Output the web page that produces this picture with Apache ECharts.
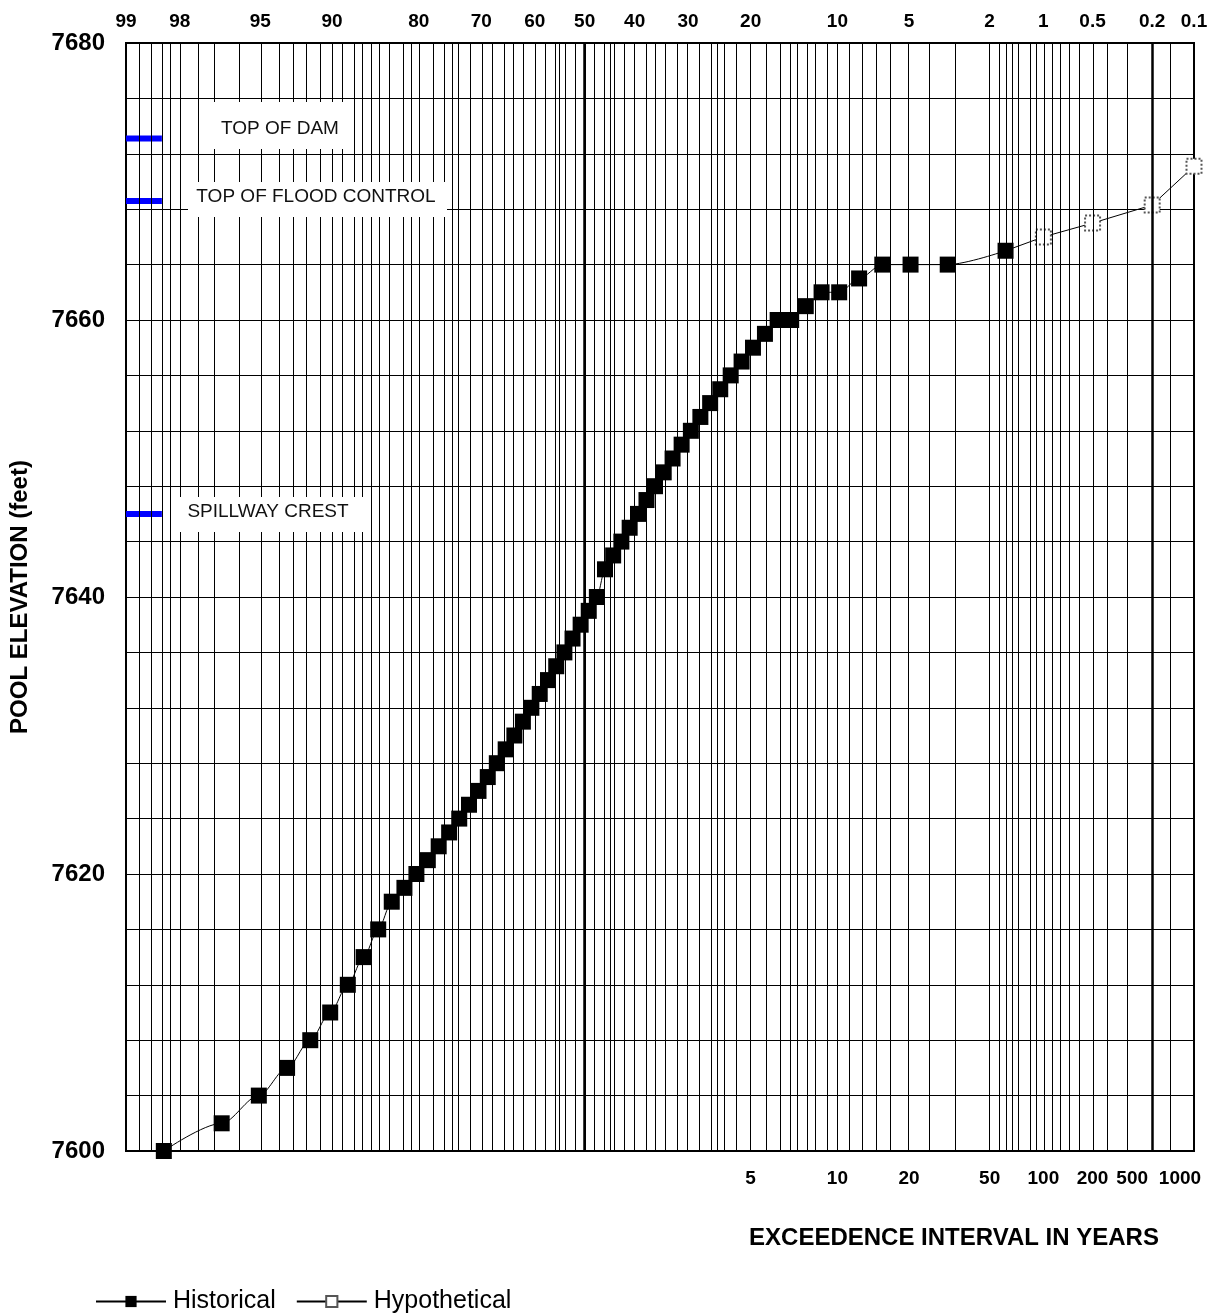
<!DOCTYPE html>
<html>
<head>
<meta charset="utf-8">
<script src="https://cdn.jsdelivr.net/npm/echarts@6/dist/echarts.min.js"></script>
<style>
html,body{margin:0;padding:0;background:#fff;}
#chart{width:1219px;height:1316px;}
</style>
</head>
<body>
<div id="chart"></div>
<script>
// ---------------- DATA ----------------
// Historical annual peak pool elevations, ranked; exceedance probability (%)
const histExceedPct = [1.64, 3.28, 4.92, 6.56, 8.20, 9.84, 11.48, 13.11, 14.75, 16.39,
  18.03, 19.67, 21.31, 22.95, 24.59, 26.23, 27.87, 29.51, 31.15, 32.79,
  34.43, 36.07, 37.70, 39.34, 40.98, 42.62, 44.26, 45.90, 47.54, 49.18,
  50.82, 52.46, 54.10, 55.74, 57.38, 59.02, 60.66, 62.30, 63.93, 65.57,
  67.21, 68.85, 70.49, 72.13, 73.77, 75.41, 77.05, 78.69, 80.33, 81.97,
  83.61, 85.25, 86.89, 88.52, 90.16, 91.80, 93.44, 95.08, 96.72, 98.36];
const histElev = [7665, 7664, 7664, 7664, 7663, 7662, 7662, 7661, 7660, 7660,
  7659, 7658, 7657, 7656, 7655, 7654, 7653, 7652, 7651, 7650,
  7649, 7648, 7647, 7646, 7645, 7644, 7643, 7642, 7640, 7639,
  7638, 7637, 7636, 7635, 7634, 7633, 7632, 7631, 7630, 7629,
  7628, 7627, 7626, 7625, 7624, 7623, 7622, 7621, 7620, 7619,
  7618, 7616, 7614, 7612, 7610, 7608, 7606, 7604, 7602, 7600];

// Hypothetical events
const hypoExceedPct = [1.64, 1, 0.5, 0.2, 0.1];
const hypoElev = [7665, 7666, 7667, 7668.3, 7671.1];

// Reference levels
const refNames = ['TOP OF DAM', 'TOP OF FLOOD CONTROL', 'SPILLWAY CREST'];
const refElev = [7673.1, 7668.6, 7646.0];

// Top axis: exceedance probability tick labels (%)
const topTickPct = [99, 98, 95, 90, 80, 70, 60, 50, 40, 30, 20, 10, 5, 2, 1, 0.5, 0.2, 0.1];
const topTickLabels = ['99', '98', '95', '90', '80', '70', '60', '50', '40', '30', '20', '10', '5', '2', '1', '0.5', '0.2', '0.1'];

// Bottom axis: exceedance interval (years)
const intervalYears = [5, 10, 20, 50, 100, 200, 500, 1000];
const intervalLabels = ['5', '10', '20', '50', '100', '200', '500', '1000'];

// Probability-paper grid lines (%)
const gridPct = [98.8, 98.6, 98.4, 98.2, 98, 97.5, 97, 96, 95, 94, 93, 92, 91, 90, 89, 88, 87, 86, 85, 84,
  82, 81, 80, 78, 76, 75, 74, 72, 70, 68, 66, 64, 62, 60, 58, 56, 55, 54, 52, 50,
  48, 46, 45, 44, 42, 40, 38, 36, 34, 32, 30, 28, 26, 25, 24, 22, 20, 18, 16, 15, 14, 13, 12, 11,
  10, 9, 8, 7, 6, 5, 4, 3, 2, 1.8, 1.6, 1.5, 1.4, 1.2, 1.1, 1, 0.9, 0.8, 0.7, 0.6, 0.5, 0.4, 0.3, 0.2, 0.15];
const heavyGridPct = [50, 0.2];

// Elevation axis
const yMin = 7600, yMax = 7680, yStep = 20;

// ---------------- SCALE (normal probability paper) ----------------
function normInv(p) {
  const a = [-3.969683028665376e+01, 2.209460984245205e+02, -2.759285104469687e+02, 1.383577518672690e+02, -3.066479806614716e+01, 2.506628277459239e+00];
  const b = [-5.447609879822406e+01, 1.615858368580409e+02, -1.556989798598866e+02, 6.680131188771972e+01, -1.328068155288572e+01];
  const c = [-7.784894002430293e-03, -3.223964580411365e-01, -2.400758277161838e+00, -2.549732539343734e+00, 4.374664141464968e+00, 2.938163982698783e+00];
  const d = [7.784695709041462e-03, 3.224671290700398e-01, 2.445134137142996e+00, 3.754408661907416e+00];
  const plow = 0.02425, phigh = 1 - plow;
  let q, r;
  if (p < plow) {
    q = Math.sqrt(-2 * Math.log(p));
    return (((((c[0]*q+c[1])*q+c[2])*q+c[3])*q+c[4])*q+c[5]) / ((((d[0]*q+d[1])*q+d[2])*q+d[3])*q+1);
  }
  if (p <= phigh) {
    q = p - 0.5; r = q * q;
    return (((((a[0]*r+a[1])*r+a[2])*r+a[3])*r+a[4])*r+a[5])*q / (((((b[0]*r+b[1])*r+b[2])*r+b[3])*r+b[4])*r+1);
  }
  q = Math.sqrt(-2 * Math.log(1 - p));
  return -(((((c[0]*q+c[1])*q+c[2])*q+c[3])*q+c[4])*q+c[5]) / ((((d[0]*q+d[1])*q+d[2])*q+d[3])*q+1);
}
// exceedance % -> position on probability scale
function U(pct) { return normInv(1 - pct / 100); }

const uMin = U(99), uMax = U(0.1);
const FONT = '"Liberation Sans", Arial, Helvetica, sans-serif';

function nearestLabel(v, values, labels) {
  let best = 0, bd = Infinity;
  values.forEach((x, i) => { const dd = Math.abs(x - v); if (dd < bd) { bd = dd; best = i; } });
  return labels[best];
}

const topU = topTickPct.map(U);
const botU = intervalYears.map(y => U(100 / y));
const labelShift = { '500': 40, '1000': 28 };

const histData = histExceedPct.map((p, i) => [U(p), histElev[i]]);
const hypoData = hypoExceedPct.map((p, i) => i === 0 ? { value: [U(p), hypoElev[i]], symbol: 'none' } : [U(p), hypoElev[i]]);

const gridLines = gridPct.map(p => ({
  xAxis: U(p),
  lineStyle: { color: '#000', type: 'solid', width: heavyGridPct.indexOf(p) >= 0 ? 2.5 : 1 }
}));

const refSeries = refElev.map((e, i) => ({
  name: refNames[i],
  type: 'line',
  z: 3,
  silent: true,
  symbol: 'none',
  data: [[uMin, e], [U(98.4), e]],
  lineStyle: { color: '#0000ff', width: 6, cap: 'butt' }
}));

const chart = echarts.init(document.getElementById('chart'), null, { renderer: 'canvas' });

const option = {
  animation: false,
  backgroundColor: '#fff',
  grid: { left: 125, right: 25, top: 43, bottom: 165, show: true, borderColor: '#000', borderWidth: 2, backgroundColor: '#fff' },
  xAxis: [
    {
      type: 'value', min: uMin, max: uMax, position: 'bottom',
      axisLine: { show: true, onZero: false, lineStyle: { color: '#000', width: 2 } },
      axisTick: { show: false }, splitLine: { show: false },
      axisLabel: {
        customValues: botU,
        formatter: v => {
          const t = nearestLabel(v, botU, intervalLabels);
          return labelShift[t] ? '{s' + t + '|' + t + '}' : t;
        },
        rich: {
          s500: { fontSize: 19, fontWeight: 'bold', fontFamily: FONT, color: '#000', padding: [0, labelShift['500'], 0, 0] },
          s1000: { fontSize: 19, fontWeight: 'bold', fontFamily: FONT, color: '#000', padding: [0, labelShift['1000'], 0, 0] }
        },
        fontSize: 19, fontWeight: 'bold', color: '#000', fontFamily: FONT, margin: 18
      }
    },
    {
      type: 'value', min: uMin, max: uMax, position: 'top',
      axisLine: { show: false }, axisTick: { show: false }, splitLine: { show: false },
      axisLabel: {
        customValues: topU,
        formatter: v => nearestLabel(v, topU, topTickLabels),
        fontSize: 19, fontWeight: 'bold', color: '#000', fontFamily: FONT, margin: 12
      }
    }
  ],
  yAxis: {
    type: 'value', min: yMin, max: yMax, interval: yStep,
    name: 'POOL ELEVATION (feet)', nameLocation: 'middle', nameGap: 94, nameRotate: 90,
    nameTextStyle: { fontSize: 24, fontWeight: 'bold', color: '#000', fontFamily: FONT },
    axisLine: { show: true, lineStyle: { color: '#000', width: 2 } },
    axisTick: { show: true, length: 9, lineStyle: { color: '#000', width: 1 } },
    axisLabel: { fontSize: 24, fontWeight: 'bold', color: '#000', fontFamily: FONT, margin: 21, formatter: v => String(v) },
    splitLine: { show: true, lineStyle: { color: '#000', width: 1, type: 'solid' } },
    minorTick: { show: false, splitNumber: 5 },
    minorSplitLine: { show: true, lineStyle: { color: '#000', width: 1, type: 'solid' } }
  },
  legend: {
    data: ['Historical', 'Hypothetical'],
    left: 90, top: 1284, itemWidth: 70, itemHeight: 14, itemGap: 20,
    textStyle: { fontSize: 25, color: '#000', fontFamily: FONT, padding: [0, 0, 0, 2] }
  },
  series: [
    {
      name: 'grid', type: 'line', z: 1, silent: true, data: [],
      markLine: { silent: true, symbol: 'none', label: { show: false }, animation: false, data: gridLines }
    },
    ...refSeries,
    {
      name: 'Hypothetical', type: 'line', z: 4, smooth: false,
      symbol: 'rect', symbolSize: 15,
      itemStyle: { color: '#ffffff', borderColor: '#555', borderWidth: 2, borderType: 'dotted' },
      lineStyle: { color: '#000', width: 1 },
      data: hypoData
    },
    {
      name: 'Historical', type: 'line', z: 5, smooth: 0.3, smoothMonotone: 'x',
      symbol: 'rect', symbolSize: 16,
      itemStyle: { color: '#000', borderColor: '#000', borderWidth: 0 },
      lineStyle: { color: '#000', width: 1 },
      data: histData
    }
  ],
  graphic: [
    { type: 'rect', z: 100, shape: { x: 213, y: 102, width: 130, height: 47 }, style: { fill: '#fff' } },
    { type: 'text', z: 101, x: 280, y: 129, style: { text: refNames[0], font: '19px ' + FONT, fill: '#111', align: 'center', verticalAlign: 'middle' } },
    { type: 'rect', z: 100, shape: { x: 188, y: 182, width: 259, height: 35 }, style: { fill: '#fff' } },
    { type: 'text', z: 101, x: 316, y: 197, style: { text: refNames[1], font: '19px ' + FONT, fill: '#111', align: 'center', verticalAlign: 'middle' } },
    { type: 'rect', z: 100, shape: { x: 179, y: 497, width: 191, height: 35 }, style: { fill: '#fff' } },
    { type: 'text', z: 101, x: 268, y: 512, style: { text: refNames[2], font: '19px ' + FONT, fill: '#111', align: 'center', verticalAlign: 'middle' } },
    { type: 'text', z: 101, x: 954, y: 1238, style: { text: 'EXCEEDENCE INTERVAL IN YEARS', font: 'bold 24px ' + FONT, fill: '#000', align: 'center', verticalAlign: 'middle' } }
  ]
};
chart.setOption(option);
</script>
</body>
</html>
